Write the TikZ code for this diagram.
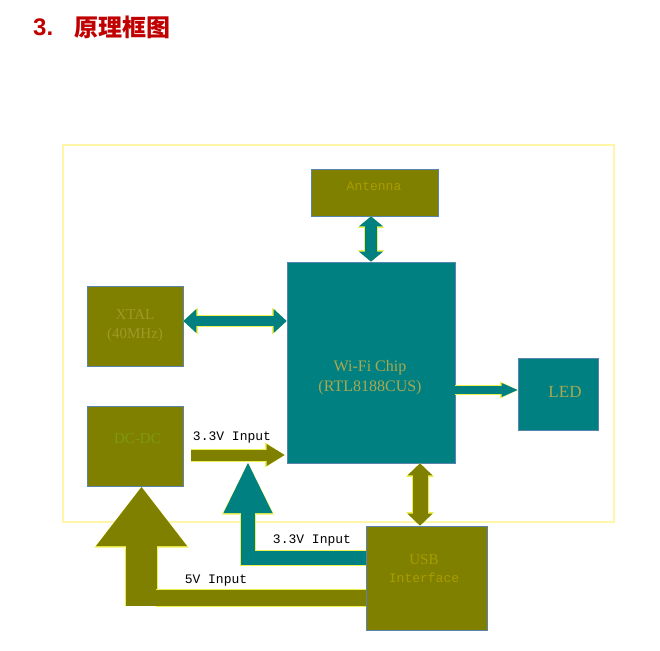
\documentclass[tikz,border=0pt]{standalone}
\usepackage{fontspec}
\setmainfont{Liberation Serif}
\setsansfont{Liberation Sans}
\setmonofont{Liberation Mono}
\newfontfamily\cjk{Noto Sans CJK SC}
\usetikzlibrary{arrows.meta}

\definecolor{oliveblk}{HTML}{808000}
\definecolor{tealblk}{HTML}{008080}
\definecolor{blkline}{HTML}{5A84B0}
\definecolor{rim}{HTML}{EEF050}
\definecolor{boardline}{HTML}{FFF6A8}
\definecolor{headred}{HTML}{C00000}
\definecolor{goldtext}{HTML}{A89C00}
\definecolor{paletext}{HTML}{9E9A28}
\definecolor{greentext}{HTML}{7E9A10}
\definecolor{chiptext}{HTML}{AAA850}

\tikzset{
  blk/.style={draw=blkline, line width=0.7pt, inner sep=0pt},
  olblk/.style={blk, fill=oliveblk},
  tlblk/.style={blk, fill=tealblk},
  serif/.style={font=\fontsize{15}{19}\selectfont, align=center, inner sep=0pt},
  mono/.style={font=\fontsize{13}{16}\ttfamily, inner sep=0pt},
  % colour, shaft, head width, head length, ends (0 none, 1 one, 2 both)
  fat/.code n args={5}{%
    \pgfmathsetmacro\rimw{#2+2}%
    \pgfmathsetmacro\rimh{#3+3}%
    \pgfmathsetmacro\riml{#4+1.5}%
    \ifcase#5\relax
      \def\fattip{}\def\rimtip{}%
    \or
      \edef\fattip{-{Triangle[width=#3pt,length=#4pt,line width=0pt]}}%
      \edef\rimtip{-{Triangle[width=\rimh pt,length=\riml pt,line width=0pt]}}%
    \or
      \edef\fattip{{Triangle[width=#3pt,length=#4pt,line width=0pt]}-{Triangle[width=#3pt,length=#4pt,line width=0pt]}}%
      \edef\rimtip{{Triangle[width=\rimh pt,length=\riml pt,line width=0pt]}-{Triangle[width=\rimh pt,length=\riml pt,line width=0pt]}}%
    \fi
    \edef\fatopts{preaction={draw=rim,line width=\rimw pt,\rimtip},draw=#1,line width=#2pt,\fattip}%
    \expandafter\tikzset\expandafter{\fatopts}},
}

\begin{document}
\begin{tikzpicture}[x=1pt,y=-1pt]

  \useasboundingbox (0,0) rectangle (660,650);

  % heading
  \node[anchor=west, inner sep=0pt, text=headred, font=\fontsize{24}{28}\sffamily\bfseries] (num) at (33,27.5) {3.};
  \node[anchor=west, inner sep=0pt, text=headred, font=\fontsize{24}{28}\cjk\bfseries] (title) at (74,27.5) {原理框图};

  % board outline
  \node[draw=boardline, line width=2pt, minimum width=551pt, minimum height=377pt, inner sep=0pt] (board) at (338.5,333.5) {};

  % blocks
  \node[olblk, minimum width=127pt, minimum height=47pt] (antenna) at (374.5,192.5) {};
  \node[mono, text=goldtext] (antlbl) at (374,186) {Antenna};

  \node[tlblk, minimum width=168pt, minimum height=201pt] (chip) at (371,362.5) {};
  \node[serif, font=\fontsize{16}{20}\selectfont, text=chiptext] (chiplbl) at (370,378) {Wi-Fi Chip\\(RTL8188CUS)};

  \node[olblk, serif, text=paletext, minimum width=96pt, minimum height=80pt] (xtal) at (135,326) {XTAL\\(40MHz)};

  \node[olblk, minimum width=96pt, minimum height=80pt] (dcdc) at (135,446) {};
  \node[serif, text=greentext] (dclbl) at (137.5,439) {DC-DC};

  \node[tlblk, minimum width=80pt, minimum height=72pt] (led) at (558,394) {};
  \node[serif, font=\fontsize{17}{20}\selectfont, text=chiptext] (ledlbl) at (565,392) {LED};

  \node[olblk, minimum width=121pt, minimum height=104pt] (usb) at (426.5,578) {};
  \node[align=center, inner sep=0pt, text=goldtext, font=\fontsize{13}{18}\selectfont] (usblbl) at (424,569)
    {{\fontsize{15}{18}\selectfont USB}\\{\ttfamily Interface}};

  % links
  \coordinate (aa) at (chip.north |- antenna.south);
  \draw[fat={tealblk}{12}{24}{10}{2}] (aa) -- (chip.north);

  \coordinate (xa) at ([yshift=5pt]xtal.east);
  \draw[fat={tealblk}{10}{24}{13}{2}] (xa) -- (xa -| chip.west);

  \coordinate (la) at ([yshift=4pt]led.west);
  \draw[fat={tealblk}{8}{14}{16}{1}] (la -| chip.east) -- (la);

  \coordinate (ua) at ([xshift=-6.5pt]usb.north);
  \draw[fat={oliveblk}{15}{25}{12}{2}] (ua) -- (ua |- chip.south);

  % power
  \coordinate (da) at ([xshift=8pt,yshift=-9pt]dcdc.east);
  \coordinate (db) at ([xshift=-2pt]da -| chip.west);
  \draw[fat={oliveblk}{11}{22}{18}{1}] (da) -- (db);
  \node[mono] (in33a) at (232,437) {3.3V Input};

  \coordinate (ta) at ([yshift=20pt]usb.west);
  \coordinate (tb) at (248,463);
  \draw[fat={tealblk}{14}{49}{50}{1}] (ta) -- (ta -| tb) -- (tb);
  \node[mono] (in33b) at (312,540) {3.3V Input};

  \coordinate (va) at (141.5,606);
  \coordinate (vb) at (141.5,487);
  \draw[fat={oliveblk}{31}{91}{59}{1}] (va) -- (vb);
  \coordinate (ha) at ([yshift=-20pt]usb.west);
  \coordinate (hb) at (156,598);
  \draw[fat={oliveblk}{16}{0}{0}{0}] (ha) -- (hb);
  \node[mono] (in5) at (216,581) {5V Input};

\end{tikzpicture}
\end{document}
